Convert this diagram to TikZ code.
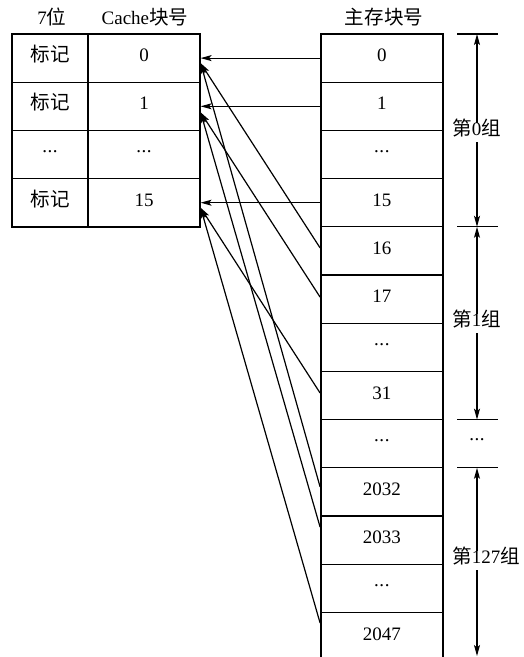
\documentclass[tikz,border=0pt]{standalone}
\usepackage{fontspec}
\setmainfont{Liberation Serif}
\newfontfamily\cjk[Scale=1.03]{Noto Sans CJK SC}
\usetikzlibrary{arrows.meta}
\newcommand\mydots{\raisebox{0.3em}{.\kern0.6pt.\kern0.6pt.}}
\begin{document}
\begin{tikzpicture}[x=1pt,y=-1pt,
  txt/.style={inner sep=0pt, text height=0.7em, text depth=0pt, font=\fontsize{19}{21}\selectfont},
  ccell/.style={txt, draw, line width=1.2pt, minimum height=48.2pt},
  mcell/.style={txt, draw, line width=1.2pt, minimum width=122.3pt, minimum height=48.2pt},
  outer/.style={line width=2.2pt},
  tick/.style={line width=1.1pt},
  conn/.style={line width=1.2pt, -{Stealth[length=11pt,width=6pt,inset=2.5pt]}},
  dim/.style={line width=1.2pt, {Stealth[length=11pt,width=6pt,inset=2.5pt]}-{Stealth[length=11pt,width=6pt,inset=2.5pt]}},
  grp/.style={txt, anchor=west, fill=white, inner ysep=6pt}
]
\useasboundingbox (0,0) rectangle (524,657);
% headers
\node[txt] (h1) at (52,21) {7{\cjk 位}};
\node[txt] (h2) at (145,21) {Cache{\cjk 块号}};
\node[txt] (h3) at (384,21) {{\cjk 主存块号}};
% cache table
\foreach \n/\k/\a/\b in {c0/0/{\cjk 标记}/0, c1/1/{\cjk 标记}/1, cd/2/\mydots/\mydots, c15/3/{\cjk 标记}/15}{
  \node[ccell, minimum width=76pt] (\n tag) at (50,{34+48.2*(\k+0.5)}) {\a};
  \node[ccell, minimum width=112pt] (\n) at (144,{34+48.2*(\k+0.5)}) {\b};
}
\draw[outer] (12,34) rectangle (200,226.8);
% memory column
\foreach \n/\k/\t in {m0/0/0, m1/1/1, md1/2/\mydots, m15/3/15, m16/4/16, m17/5/17, md2/6/\mydots, m31/7/31, md3/8/\mydots, m2032/9/2032, m2033/10/2033, md4/11/\mydots, m2047/12/2047}{
  \node[mcell] (\n) at (381.85,{34+48.2*(\k+0.5)}) {\t};
}
\draw[outer] (320.7,662) -- (320.7,34) -- (443,34) -- (443,662);
% connectors
\draw[conn] (m0.west) -- (c0.east);
\draw[conn] (m1.west) -- (c1.east);
\draw[conn] (m15.west) -- (c15.east);
\draw[conn] ([yshift=3pt]m16.west) -- ([yshift=-5pt]c0.east);
\draw[conn] ([yshift=2pt]m17.west) -- ([yshift=-6pt]c1.east);
\draw[conn] ([yshift=2.5pt]m31.west) -- ([yshift=-5pt]c15.east);
\draw[conn] ([yshift=5pt]m2032.west) -- ([yshift=-5pt]c0.east);
\draw[conn] ([yshift=13pt]m2033.west) -- ([yshift=-6pt]c1.east);
\draw[conn] ([yshift=13.5pt]m2047.west) -- ([yshift=-5pt]c15.east);
% group markers
\coordinate (t0l) at (457,34);     \coordinate (t0r) at (498,34);
\coordinate (t1l) at (457,226.8);  \coordinate (t1r) at (498,226.8);
\coordinate (t2l) at (457,419.6);  \coordinate (t2r) at (498,419.6);
\coordinate (t3l) at (457,467.8);  \coordinate (t3r) at (498,467.8);
\draw[tick] (t0l) -- (t0r);
\draw[tick] (t1l) -- (t1r);
\draw[tick] (t2l) -- (t2r);
\draw[tick] (t3l) -- (t3r);
\coordinate (a0) at (477,34);
\coordinate (a1) at (477,226.8);
\coordinate (a2) at (477,419.6);
\coordinate (a3) at (477,467.8);
\coordinate (a4) at (477,656);
\draw[dim] (a0) -- (a1);
\draw[dim] (a1) -- (a2);
\draw[dim] (a3) -- (a4);
\node[grp] (g0) at (452,132) {{\cjk 第}0{\cjk 组}};
\node[grp] (g1) at (452,323) {{\cjk 第}1{\cjk 组}};
\node[grp] (g127) at (452,560) {{\cjk 第}127{\cjk 组}};
\node[txt] (gd) at (477,443) {\mydots};
\end{tikzpicture}
\end{document}
